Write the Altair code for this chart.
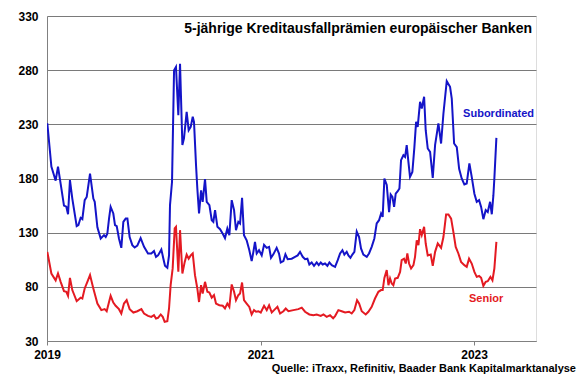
import altair as alt
import pandas as pd

# --- data (years since 2019-01-01, spread in bp) ---
sub_t = [0.003, 0.041, 0.081, 0.103, 0.128, 0.159, 0.181, 0.197, 0.215, 0.237, 0.278, 0.294, 0.315, 0.331,
         0.353, 0.372, 0.403, 0.434, 0.447, 0.472, 0.503, 0.534, 0.550, 0.565, 0.581, 0.596, 0.621, 0.637,
         0.653, 0.674, 0.696, 0.715, 0.737, 0.753, 0.774, 0.799, 0.821, 0.846, 0.877, 0.909, 0.946, 0.977,
         1.002, 1.021, 1.040, 1.071, 1.090, 1.105, 1.127, 1.143, 1.152, 1.171, 1.190, 1.208, 1.230, 1.246,
         1.268, 1.283, 1.308, 1.327, 1.346,
         1.365, 1.377, 1.396, 1.408, 1.424, 1.443, 1.458, 1.480, 1.496, 1.521, 1.543, 1.558, 1.574, 1.596,
         1.621, 1.646, 1.667, 1.689, 1.708, 1.730, 1.752, 1.770, 1.792, 1.808, 1.827, 1.845, 1.870, 1.895,
         1.917, 1.933, 1.948, 1.964, 1.986, 2.011, 2.033, 2.058, 2.080, 2.098, 2.120, 2.151, 2.173, 2.189,
         2.214, 2.233, 2.254, 2.292, 2.323, 2.348, 2.370, 2.395, 2.417, 2.439, 2.457, 2.479, 2.501, 2.526,
         2.545, 2.564, 2.582, 2.604, 2.626, 2.645, 2.667,
         2.698, 2.723, 2.745, 2.767, 2.785, 2.807, 2.823, 2.842, 2.860, 2.879, 2.901, 2.923, 2.941, 2.963,
         2.995, 3.016, 3.041, 3.066, 3.088, 3.110, 3.129, 3.144, 3.160, 3.182, 3.204, 3.219, 3.235, 3.251,
         3.266, 3.285, 3.301, 3.316, 3.338, 3.354, 3.369, 3.385, 3.400, 3.422, 3.441, 3.457, 3.472, 3.494,
         3.510, 3.532, 3.547, 3.566, 3.588, 3.613, 3.635, 3.666, 3.691, 3.713, 3.744, 3.775, 3.791, 3.813,
         3.838, 3.860, 3.884, 3.909, 3.931, 3.956, 3.978, 4.003, 4.025, 4.047, 4.066, 4.087, 4.109, 4.128,
         4.150, 4.166, 4.181, 4.190, 4.209]
sub_v = [231, 191, 178, 191, 175, 155, 154, 147, 178.5, 161.5, 136, 137, 143.7, 142.5,
         160, 163, 184.6, 161.5, 158.5, 135, 124.6, 127.7, 126, 129, 143, 153.8, 147.7, 136.9,
         136, 124.6, 116, 140, 143, 143, 126, 118.5, 116.3, 118, 125, 117, 110.8, 110.8,
         113, 107.7, 109, 114.5, 106, 99.4, 97.5, 109, 155.4, 177, 280, 283, 238.5, 286,
         211, 217, 241.5, 224.6, 227.7,
         237, 232, 192, 170.8, 147.7, 169, 158.5, 179.4, 158.5, 155.4, 141.5, 140, 150.8, 135.4,
         133.2, 129, 125, 133.8, 127.7, 160, 150.8, 132.3, 140, 138.5, 162.2, 127.7, 123, 113.8,
         103.7, 112.3, 121.5, 110.8, 113.8, 109, 118.8, 116, 116.9, 106.8, 110, 116, 110.7, 102.5,
         103.7, 110, 105.5, 106, 107.7, 109, 112.3, 107.7, 105.5, 106, 100.6, 102.5, 99.4, 102.5,
         100, 102.5, 100.6, 101.5, 99.4, 102.5, 100,
         98.5, 104.6, 110.8, 113.8, 109.8, 112.3, 109, 106.8, 109.8, 112.3, 131, 126, 115.4, 109.8,
         107.7, 110.8, 116.9, 124.6, 138.5, 141.5, 147.7, 144.6, 180, 174, 149, 165.2, 163, 153.8,
         166, 168.3, 170.8, 196.9, 201.5, 200, 210.8, 195.4, 181.5, 186, 209, 232.3, 227.7, 250.8,
         244.6, 255.4, 224.6, 207.7, 204.6, 180.6, 211, 230.8, 212.3, 240, 269.8, 264.6, 253.8, 212.3,
         209, 189, 180, 174.5, 175.4, 194, 181.5, 166, 158.5, 160, 153.8, 142.5, 150.8, 149,
         158.5, 147, 164.6, 180, 217.5]

sen_t = [0.003, 0.041, 0.081, 0.103, 0.128, 0.159, 0.181, 0.197, 0.215, 0.237, 0.278, 0.315, 0.331, 0.353,
         0.378, 0.403, 0.434, 0.472, 0.509, 0.540, 0.559, 0.581, 0.596, 0.621, 0.643, 0.674, 0.696, 0.721,
         0.746, 0.774, 0.809, 0.846, 0.884, 0.909, 0.946, 0.977, 1.002, 1.021, 1.040, 1.065, 1.084, 1.102,
         1.127, 1.143, 1.158, 1.177, 1.196, 1.208, 1.230, 1.246, 1.268, 1.290, 1.308, 1.327, 1.346,
         1.365, 1.386, 1.408, 1.424, 1.443, 1.458, 1.480, 1.502, 1.521, 1.543, 1.564, 1.583, 1.614, 1.646,
         1.667, 1.689, 1.708, 1.730, 1.752, 1.770, 1.792, 1.808, 1.827, 1.845, 1.870, 1.895, 1.917, 1.939,
         1.958, 1.980, 2.002, 2.033, 2.058, 2.080, 2.105, 2.136, 2.158, 2.183, 2.214, 2.236, 2.261, 2.308,
         2.354, 2.386, 2.417, 2.457, 2.495, 2.526, 2.564, 2.589, 2.620, 2.651, 2.680,
         2.698, 2.729, 2.760, 2.792, 2.829, 2.854, 2.879, 2.904, 2.923, 2.948, 2.985, 3.010, 3.041, 3.072,
         3.104, 3.129, 3.144, 3.160, 3.182, 3.198, 3.213, 3.229, 3.244, 3.260, 3.285, 3.307, 3.322, 3.344,
         3.360, 3.375, 3.391, 3.410, 3.432, 3.447, 3.463, 3.479, 3.494, 3.510, 3.532, 3.547, 3.566, 3.594,
         3.613, 3.635, 3.660, 3.691, 3.713, 3.738, 3.760, 3.785, 3.806, 3.828, 3.853, 3.878, 3.909, 3.931,
         3.953, 3.978, 4.003, 4.025, 4.047, 4.066, 4.087, 4.109, 4.128, 4.153, 4.172, 4.190, 4.209]
sen_v = [112.3, 92.3, 86, 92.3, 84.6, 76, 75.4, 71.7, 88.3, 77, 66.8, 70, 69.2, 78.5,
         84.6, 90.8, 78.5, 64.6, 58.5, 59.4, 57.5, 66, 71.7, 65.5, 62.5, 59.4, 55.4, 64.6,
         67.7, 59.4, 56.3, 57.5, 59.4, 55.4, 53.2, 52.3, 53.8, 50.8, 51.4, 54.5, 52.3, 47.7,
         48.3, 60, 81.5, 97, 134, 135.4, 94, 132.3, 92.3, 103, 109.8, 106, 109,
         110.8, 90.8, 78.5, 66, 81.5, 73.8, 84.6, 75.4, 74.8, 70, 72.3, 64.6, 63, 62.5,
         60, 64.6, 61.5, 82.2, 75.4, 67.7, 72.3, 73.8, 84, 67.7, 64.6, 61.5, 54.5, 58.5,
         57, 57.5, 56.3, 62.5, 58.5, 63, 56.3, 59.4, 61.5, 55.4, 57.5, 60, 57.5, 58.5,
         59.4, 60.8, 57, 54.5, 53.8, 54.5, 53.2, 54.5, 52.3, 53.8, 51,
         53, 58.5, 57.5, 56.3, 57, 55.4, 58.5, 67.7, 64.6, 57.5, 54.5, 57, 61.5, 69.2,
         75.4, 77, 77, 88.3, 95.4, 81.5, 87.7, 83, 81.5, 87.7, 88.3, 93.8, 104.6, 106,
         101.5, 110.8, 101.5, 96.9, 100, 107.7, 123, 118.5, 133.2, 127.7, 135.4, 120, 109, 109.8,
         99.4, 112.3, 120, 116, 126, 146.8, 146.8, 143, 130.7, 116.9, 110.8, 103, 100, 98.5,
         106, 101.5, 93.8, 89.2, 90, 88.3, 80.9, 84.6, 85.2, 89.2, 86, 96.9, 121.5]

series_names = ["Subordinated", "Senior"]
series_colors = ["#1414c8", "#e41a22"]
y_ticks = [30, 80, 130, 180, 230, 280, 330]
x_ticks = [2019, 2021, 2023]
title_text = "5-jährige Kreditausfallprämien europäischer Banken"
source_text = "Quelle: iTraxx, Refinitiv, Baader Bank Kapitalmarktanalyse"

df = pd.concat([
    pd.DataFrame({"year": [2019 + t for t in sub_t], "value": sub_v, "series": series_names[0]}),
    pd.DataFrame({"year": [2019 + t for t in sen_t], "value": sen_v, "series": series_names[1]}),
], ignore_index=True)

FONT = "Liberation Sans"

x_enc = alt.X("year:Q",
              scale=alt.Scale(domain=[2019, 2023.58], nice=False, zero=False),
              axis=alt.Axis(values=x_ticks, format="d", title=None, grid=False,
                            labelFlush=False, labelFont=FONT, labelFontSize=12,
                            labelFontWeight="bold", labelColor="black", labelPadding=4,
                            tickSize=4, tickColor="#808080", domainColor="#808080"))
y_enc = alt.Y("value:Q",
              scale=alt.Scale(domain=[30, 330], nice=False, zero=False),
              axis=alt.Axis(values=y_ticks, title=None, grid=True, gridColor="#7a7a7a",
                            gridWidth=1, ticks=False, labelFont=FONT, labelFontSize=12,
                            labelFontWeight="bold", labelColor="black", labelPadding=9,
                            domainColor="#808080"))

lines = alt.Chart(df).mark_line(strokeWidth=2, clip=True).encode(
    x=x_enc, y=y_enc,
    color=alt.Color("series:N", scale=alt.Scale(domain=series_names, range=series_colors), legend=None),
    order="year:Q",
)

def txt(text, x, y, color, size, align="right"):
    return alt.Chart(pd.DataFrame({"t": [text]})).mark_text(
        font=FONT, fontSize=size, fontWeight="bold", color=color, align=align, baseline="alphabetic"
    ).encode(text="t:N", x=alt.value(x), y=alt.value(y))

chart = alt.layer(
    lines,
    txt(title_text, 485, 17, "black", 14),
    txt(series_names[0], 487, 101, series_colors[0], 11),
    txt(series_names[1], 422, 286, series_colors[1], 11, align="left"),
    txt(source_text, 529, 356, "black", 11),
).properties(
    width=489, height=325,
    autosize=alt.AutoSizeParams(type="none"),
    padding={"left": 47, "top": 16, "right": 44, "bottom": 35},
).configure_view(stroke="#808080", strokeWidth=1).configure(background="white")

chart.save("out.html", embed_options={"renderer": "svg", "actions": False})
